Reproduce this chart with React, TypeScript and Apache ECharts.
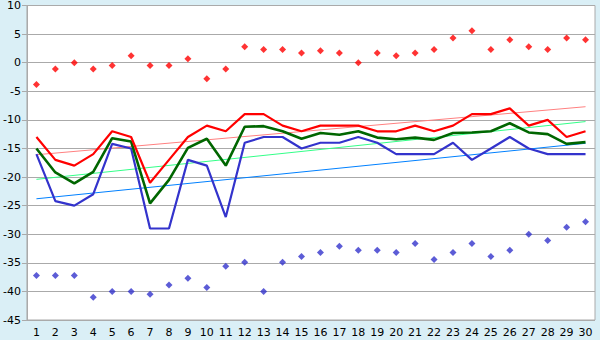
import React, { useEffect, useRef } from "react";
import * as echarts from "echarts";

const categories = Array.from({ length: 30 }, (_, i) => String(i + 1));

const redLine = [-13, -17, -18, -16, -12, -13, -21, -17, -13, -11, -12, -9, -9, -11, -12, -11, -11, -11, -12, -12, -11, -12, -11, -9, -9, -8, -11, -10, -13, -12];
const greenLine = [-15, -19.2, -21.1, -19.1, -13.2, -13.8, -24.6, -20.5, -14.9, -13.3, -18, -11.2, -11.1, -12, -13.3, -12.3, -12.6, -12, -13.1, -13.4, -13.1, -13.5, -12.3, -12.2, -12, -10.6, -12.2, -12.5, -14.2, -13.9];
const blueLine = [-16, -24.2, -25, -23, -14.2, -15, -29, -29, -17, -18, -27, -14, -13, -13, -15, -14, -14, -13, -14, -16, -16, -16, -14, -17, -15, -13, -15, -16, -16, -16];
const redPoints = [-3.8, -1.1, 0, -1.1, -0.5, 1.2, -0.5, -0.5, 0.7, -2.8, -1.1, 2.8, 2.3, 2.3, 1.7, 2.1, 1.7, 0, 1.7, 1.2, 1.7, 2.3, 4.3, 5.6, 2.3, 4.0, 2.8, 2.3, 4.3, 4.0];
const bluePoints = [-37.2, -37.2, -37.2, -41, -40, -40, -40.5, -38.9, -37.7, -39.3, -35.6, -34.9, -40, -34.9, -33.9, -33.2, -32.1, -32.8, -32.8, -33.2, -31.6, -34.4, -33.2, -31.6, -33.9, -32.8, -30, -31.1, -28.8, -27.8];
// trend line end points (first and last category)
const redTrend = [-16.1, -7.7];
const greenTrend = [-20.4, -10.3];
const blueTrend = [-23.8, -14.1];

const trend = (ends: number[]) => [[0, ends[0]], [categories.length - 1, ends[1]]];

export default function App() {
  const ref = useRef<HTMLDivElement>(null);
  useEffect(() => {
    document.body.style.margin = "0";
    const chart = echarts.init(ref.current!, null, { renderer: "svg" });
    const font = "DejaVu Sans";
    chart.setOption({
      animation: false,
      backgroundColor: "#daeff6",
      grid: { left: 26, right: 5, top: 5, bottom: 20, show: true, backgroundColor: "#ffffff", borderColor: "#aaaaaa", borderWidth: 1 },
      xAxis: {
        type: "category",
        data: categories,
        boundaryGap: true,
        axisLine: { lineStyle: { color: "#aaaaaa" } },
        axisTick: { alignWithLabel: true, length: 5, lineStyle: { color: "#000000" } },
        axisLabel: { color: "#000", fontFamily: font, fontSize: 11, margin: 7, interval: 0 },
      },
      yAxis: {
        type: "value",
        min: -45,
        max: 10,
        interval: 5,
        axisLine: { show: true, lineStyle: { color: "#aaaaaa" } },
        axisTick: { show: true, length: 5, lineStyle: { color: "#aaaaaa" } },
        splitLine: { lineStyle: { color: "#aaaaaa", width: 1 } },
        axisLabel: { color: "#000", fontFamily: font, fontSize: 11, margin: 6 },
      },
      series: [
        { type: "line", data: trend(redTrend), symbol: "none", lineStyle: { color: "#ff8080", width: 1 }, z: 1 },
        { type: "line", data: trend(greenTrend), symbol: "none", lineStyle: { color: "#33ff88", width: 1 }, z: 1 },
        { type: "line", data: trend(blueTrend), symbol: "none", lineStyle: { color: "#0080ff", width: 1 }, z: 1 },
        { type: "line", data: blueLine, symbol: "none", lineStyle: { color: "#3333cc", width: 2.2 }, z: 2 },
        { type: "line", data: greenLine, symbol: "none", lineStyle: { color: "#006600", width: 2.6 }, z: 3 },
        { type: "line", data: redLine, symbol: "none", lineStyle: { color: "#ff0000", width: 2.2 }, z: 4 },
        { type: "scatter", data: redPoints, symbol: "diamond", symbolSize: 7, itemStyle: { color: "#ff0000" }, z: 5 },
        { type: "scatter", data: bluePoints, symbol: "diamond", symbolSize: 7, itemStyle: { color: "#3333cc" }, z: 5 },
      ],
    });
    return () => chart.dispose();
  }, []);
  return <div ref={ref} style={{ width: 600, height: 340 }} />;
}
